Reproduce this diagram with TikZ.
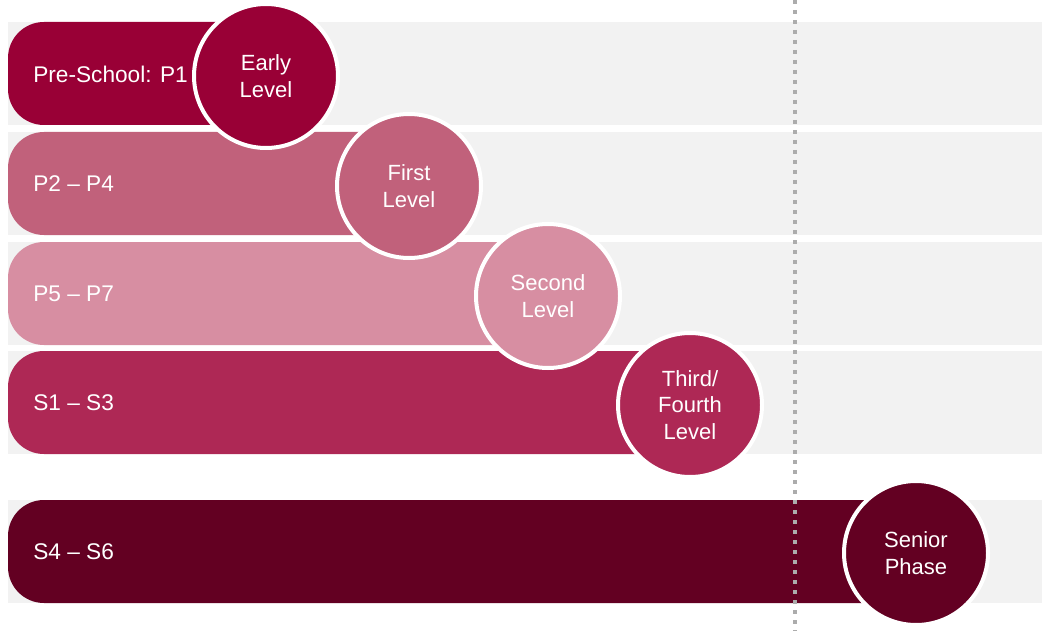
\documentclass[tikz,border=0pt]{standalone}
\usepackage{fontspec}
\setmainfont{Liberation Sans}

\definecolor{earlyRed}{HTML}{990036}
\definecolor{firstPink}{HTML}{C1617B}
\definecolor{secondPink}{HTML}{D78EA2}
\definecolor{thirdRed}{HTML}{AE2855}
\definecolor{seniorRed}{HTML}{630022}
\definecolor{trackGrey}{HTML}{F2F2F2}

\begin{document}
\begin{tikzpicture}[x=0.75pt,y=-0.75pt,
    track/.style={fill=trackGrey},
    stagebar/.style={rounded corners=27pt},
    stagelabel/.style={anchor=west,inner sep=0pt,text=white,font=\fontsize{17}{20}\selectfont},
    levelcircle/.style={circle,draw=white,line width=3pt,minimum size=108pt,inner sep=0pt,
      text=white,align=center,font=\fontsize{16.5}{20}\selectfont},
    divider/.style={gray!65,line width=3pt,dash pattern=on 3pt off 4.5pt}]

            \useasboundingbox (0,0) rectangle (1042,631);

            % grey tracks
            \foreach \top in {22,132,242,351,500}{
              \fill[track] (8,\top) rectangle (1042,\top+103);
            }

            % coloured bars
            \foreach \top/\cx/\col/\stage [count=\i] in {22/266/earlyRed/{Pre-School: P1},
                132/409/firstPink/{P2 -- P4}, 242/548/secondPink/{P5 -- P7},
                351/690/thirdRed/{S1 -- S3}, 500/916/seniorRed/{S4 -- S6}}{
              \fill[stagebar,fill=\col] (8,\top) rectangle (\cx,\top+103);
              \node[stagelabel] (stage\i) at (33,\top+52) {\stage};
            }

            \coordinate (divtop) at (795,0);
            \coordinate (divbot) at (795,631);
            \draw[divider] (divtop)--(divbot);

            % level circles
            \foreach \cx/\cy/\col/\level [count=\i] in {266/76/earlyRed/{Early\\Level},
                409/186/firstPink/{First\\Level}, 548/296/secondPink/{Second\\Level},
                690/405/thirdRed/{Third/\\Fourth\\Level}, 916/553/seniorRed/{Senior\\Phase}}{
              \node[levelcircle,fill=\col] (level\i) at (\cx,\cy) {\level};
            }

\end{tikzpicture}
\end{document}
